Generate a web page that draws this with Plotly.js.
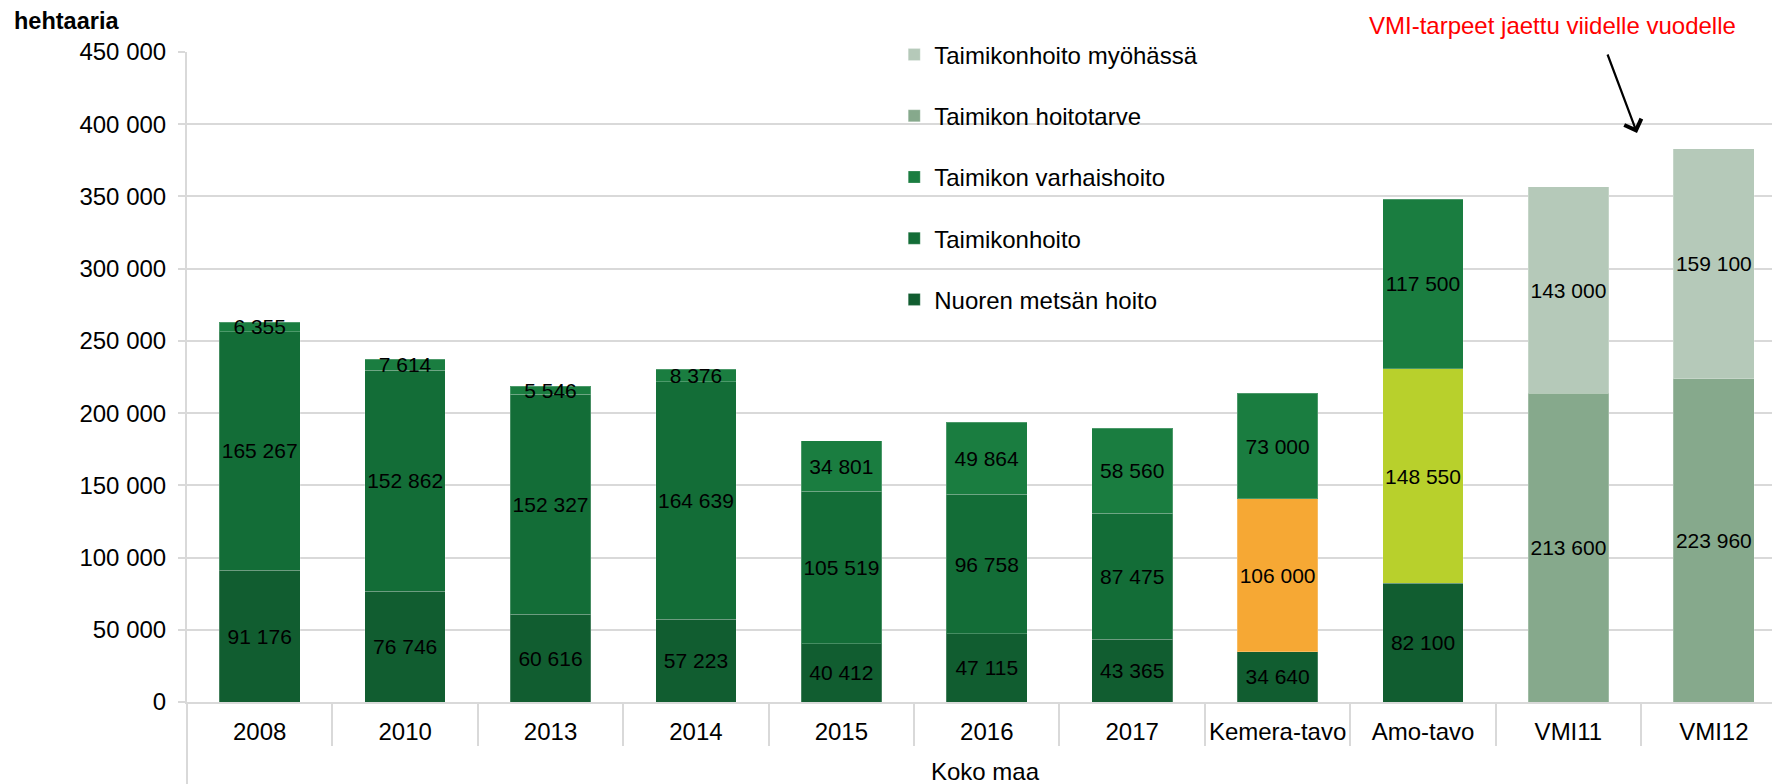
<!DOCTYPE html>
<html>
<head>
<meta charset="utf-8">
<script src="https://cdn.plot.ly/plotly-3.0.1.min.js"></script>
<style>
html,body{margin:0;padding:0;background:#fff;}
#chart{width:1772px;height:784px;}
</style>
</head>
<body>
<div id="chart"></div>
<script>
// ---- data ----
const categories = ['2008','2010','2013','2014','2015','2016','2017','Kemera-tavo','Amo-tavo','VMI11','VMI12'];
const nuorenMetsanHoito   = [91176, 76746, 60616, 57223, 40412, 47115, 43365, 34640, 82100, null, null];
const taimikonhoito       = [165267, 152862, 152327, 164639, 105519, 96758, 87475, 106000, 148550, null, null];
const taimikonVarhaishoito= [6355, 7614, 5546, 8376, 34801, 49864, 58560, 73000, 117500, null, null];
const taimikonHoitotarve  = [null, null, null, null, null, null, null, null, null, 213600, 223960];
const taimikonhoitoMyohassa = [null, null, null, null, null, null, null, null, null, 143000, 159100];
const yTickValues = [0, 50000, 100000, 150000, 200000, 250000, 300000, 350000, 400000, 450000];

// ---- styling ----
const FONT = 'Liberation Sans, Arial, sans-serif';
const GRID = '#d9d9d9';
const cDark = '#115d30';
const cMid = '#136d37';
const cLight = '#1a7d40';
const cNeed = '#86a98c';
const cLate = '#b5c9b9';
const cOrange = '#f6a834';
const cYellow = '#b8d02c';

function fmt(v){ return v == null ? '' : String(v).replace(/\B(?=(\d{3})+(?!\d))/g, ' '); }

function barTrace(name, vals, color, rank){
  return {
    type: 'bar', name: name, x: categories, y: vals,
    legendgroup: name, legendrank: rank,
    marker: {color: color, line: {color: 'rgba(255,255,255,0.22)', width: 1}},
    text: vals.map(fmt), textposition: 'inside', insidetextanchor: 'middle',
    textangle: 0, constraintext: 'none',
    textfont: {family: FONT, size: 21, color: '#000'},
    width: 0.555, hoverinfo: 'skip'
  };
}

const midColors = categories.map(c => c === 'Kemera-tavo' ? cOrange : (c === 'Amo-tavo' ? cYellow : cMid));

const data = [
  barTrace('Nuoren metsän hoito', nuorenMetsanHoito, cDark, 5),
  barTrace('Taimikonhoito', taimikonhoito, midColors, 4),
  barTrace('Taimikon varhaishoito', taimikonVarhaishoito, cLight, 3),
  barTrace('Taimikon hoitotarve', taimikonHoitotarve, cNeed, 2),
  barTrace('Taimikonhoito myöhässä', taimikonhoitoMyohassa, cLate, 1)
];

const layout = {
  width: 1772, height: 784,
  margin: {l: 187, r: 0, t: 52, b: 82, pad: 0},
  paper_bgcolor: '#fff', plot_bgcolor: '#fff',
  barmode: 'stack',
  separators: ', ',
  font: {family: FONT, size: 24, color: '#000'},
  uniformtext: {mode: 'show', minsize: 21},
  showlegend: true,
  legend: {
    x: 0.4462, xanchor: 'left', y: 1.03, yanchor: 'top',
    traceorder: 'grouped', tracegroupgap: 27,
    font: {family: FONT, size: 24, color: '#000'},
    bgcolor: 'rgba(0,0,0,0)', borderwidth: 0
  },
  xaxis: {
    type: 'category', range: [-0.5, 10.4],
    showgrid: false, zeroline: false,
    showline: true, linecolor: GRID, linewidth: 2,
    ticks: 'outside', tickson: 'boundaries', ticklen: 42, tickwidth: 2, tickcolor: GRID,
    tickangle: 0, ticklabelstandoff: 7,
    tickfont: {family: FONT, size: 24, color: '#000'}
  },
  yaxis: {
    range: [0, 450000], tickvals: yTickValues, tickformat: ',d',
    showgrid: true, gridcolor: GRID, gridwidth: 2,
    zeroline: false, showline: true, linecolor: GRID, linewidth: 2,
    ticks: 'outside', ticklen: 7, tickwidth: 2, tickcolor: GRID,
    ticklabelstandoff: 7,
    tickfont: {family: FONT, size: 24, color: '#000'}
  },
  shapes: [
    {type: 'line', xref: 'paper', yref: 'paper', x0: 0, x1: 0, y0: 0, y1: -0.13,
     line: {color: GRID, width: 2}}
  ],
  annotations: [
    {xref: 'paper', yref: 'paper', x: -0.1104, y: 1.0477, xanchor: 'left', yanchor: 'middle',
     text: '<b>hehtaaria</b>', showarrow: false, font: {family: FONT, size: 23.5, color: '#000'}},
    {xref: 'paper', yref: 'paper', x: 0.5035, y: -0.1062, xanchor: 'center', yanchor: 'middle',
     text: 'Koko maa', showarrow: false, font: {family: FONT, size: 24, color: '#000'}},
    {xref: 'paper', yref: 'paper', x: 0.8612, y: 1.04, xanchor: 'center', yanchor: 'middle',
     text: 'VMI-tarpeet jaettu viidelle vuodelle', showarrow: false, font: {family: FONT, size: 24, color: '#ff0000'}},
    {xref: 'paper', yref: 'paper', x: (1637 - 187) / 1585, y: (702 - 133) / 650,
     text: '', showarrow: true, ax: -30, ay: -80, axref: 'pixel', ayref: 'pixel',
     arrowhead: 4, arrowsize: 1.6, arrowwidth: 2.2, arrowcolor: '#000', standoff: 0}
  ]
};

Plotly.newPlot('chart', data, layout, {displayModeBar: false, staticPlot: true});
</script>
</body>
</html>
